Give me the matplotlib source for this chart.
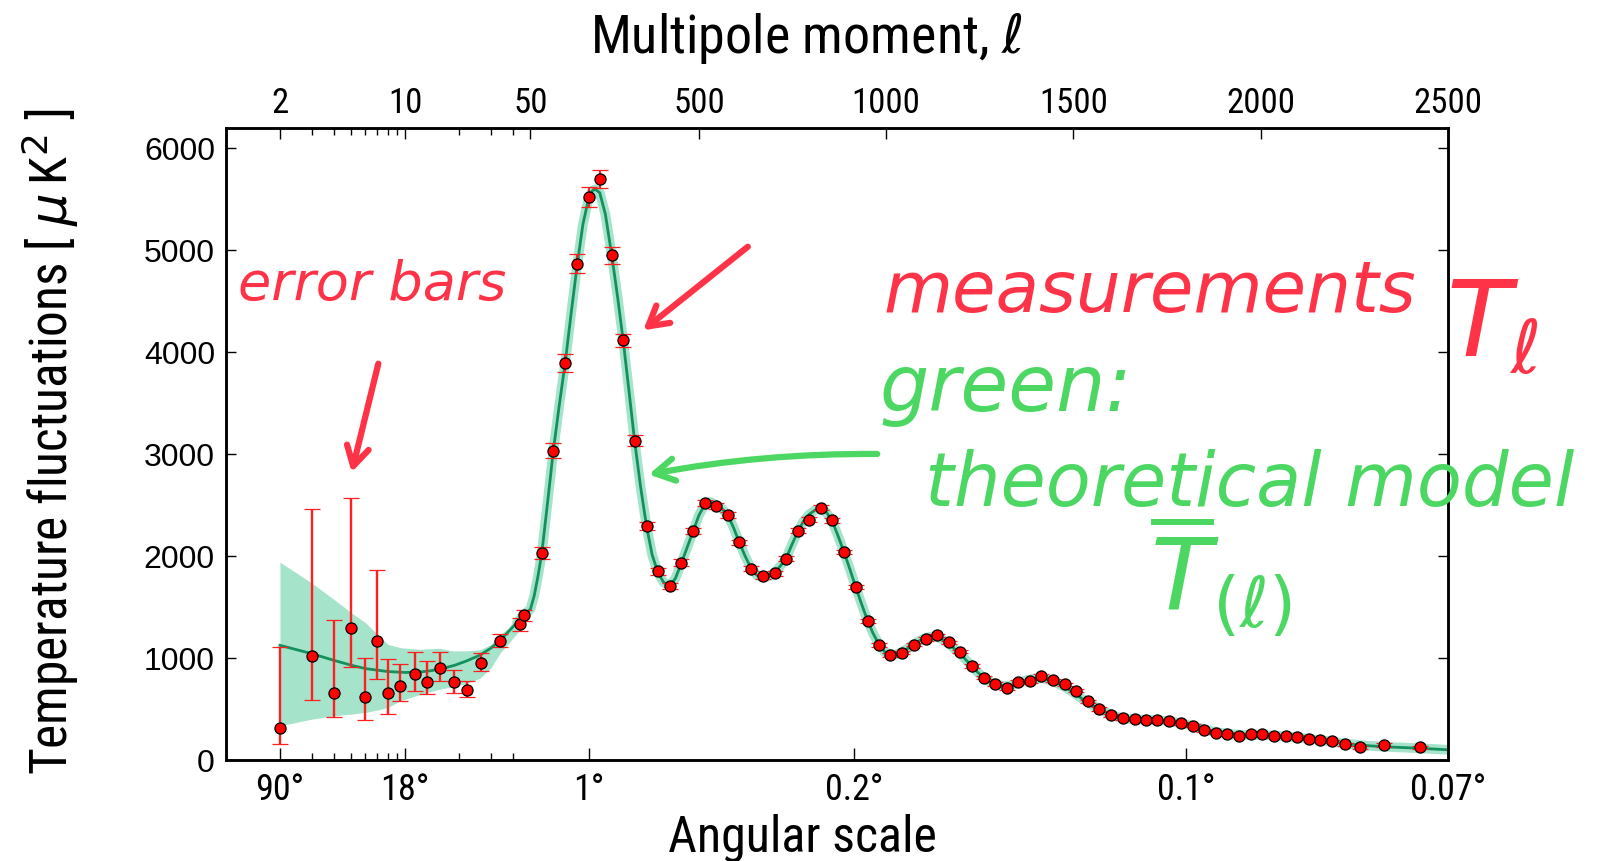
import numpy as np
import matplotlib
matplotlib.use("Agg")
import matplotlib.pyplot as plt
from matplotlib import font_manager as fm

# ---------------- data ----------------
low_l = [2, 3, 4, 5, 6, 7, 8, 9.4, 11.4, 13.3, 15.7, 18.7, 22, 26.4, 33.7, 43.6, 46]
low_D = [313, 1017, 655, 1290, 613, 1170, 652, 723, 841, 765, 902, 762, 687, 955, 1170, 1329, 1417]
low_lo = [156, 586, 420, 912, 391, 792, 447, 577, 677, 645, 779, 655, 613, 873, 1108, 1264, 1362]
low_hi = [1108, 2457, 1368, 2570, 1004, 1867, 994, 941, 1062, 971, 1059, 880, 779, 1049, 1235, 1391, 1469]

high_l = [80, 111, 143, 175, 205, 235, 267, 298, 329, 360, 391, 422, 453, 485, 515, 546, 577, 608,
          639, 670, 702, 733, 764, 794, 825, 856, 888, 918, 950, 981, 1011, 1042, 1074, 1105, 1136,
          1167, 1197, 1229, 1260, 1291, 1322, 1353, 1383, 1414, 1446, 1477, 1508, 1539, 1569, 1601,
          1632, 1663, 1694, 1724, 1756, 1787, 1818, 1849, 1880, 1911, 1942, 1973, 2004, 2035, 2067,
          2097, 2128, 2158, 2190, 2225, 2266, 2328, 2425]
high_D = [2029, 3033, 3895, 4865, 5518, 5696, 4946, 4115, 3130, 2295, 1851, 1705, 1935, 2241, 2519,
          2493, 2405, 2134, 1877, 1802, 1831, 1975, 2248, 2356, 2473, 2349, 2040, 1698, 1366, 1127,
          1029, 1053, 1131, 1183, 1222, 1153, 1063, 922, 808, 746, 707, 765, 772, 824, 782, 743, 681,
          574, 499, 440, 408, 401, 391, 391, 381, 359, 335, 293, 267, 257, 238, 251, 254, 235, 238,
          228, 208, 198, 183, 153, 127, 147, 127]
high_err = [56, 75, 88, 93, 97, 87, 80, 62, 54, 40, 35, 32, 32, 30, 30, 30, 28, 26, 25, 24, 24, 24,
            24, 24, 24, 24, 22, 20, 20, 18, 18, 18, 18, 18, 18, 18, 18, 17, 17, 16, 16, 16, 16, 16,
            16, 16, 16, 16, 16, 15, 15, 15, 15, 15, 15, 15, 15, 15, 15, 15, 15, 15, 15, 15, 15, 15,
            15, 15, 15, 15, 15, 15, 15]

theory_l = [2, 3, 4, 5, 6, 7, 8, 10, 12, 14, 16, 19, 22, 26, 30, 34, 38, 42, 46, 50, 60, 70, 80, 95,
            111, 127, 143, 160, 175, 190, 205, 215, 223, 235, 250, 267, 283, 298, 313, 328, 344, 360,
            375, 391, 406, 422, 437, 453, 469, 485, 500, 515, 530, 546, 562, 577, 592, 608, 623, 639,
            655, 670, 686, 702, 717, 733, 748, 764, 779, 795, 810, 825, 840, 856, 871, 887, 903, 918,
            934, 950, 965, 981, 996, 1011, 1027, 1042, 1058, 1073, 1089, 1104, 1120, 1136, 1151, 1167,
            1182, 1198, 1213, 1229, 1244, 1260, 1275, 1291, 1306, 1322, 1337, 1353, 1368, 1384, 1399,
            1415, 1430, 1446, 1461, 1477, 1492, 1508, 1523, 1539, 1554, 1570, 1585, 1601, 1616, 1632,
            1663, 1694, 1725, 1756, 1787, 1818, 1849, 1880, 1911, 1942, 1973, 2004, 2035, 2066, 2097,
            2128, 2159, 2190, 2225, 2266, 2328, 2425, 2500]
theory_D = [1124, 1043, 977, 929, 896, 880, 867, 858, 862, 876, 895, 930, 971, 1026, 1095, 1175, 1265,
            1345, 1420, 1480, 1610, 1800, 2020, 2500, 3030, 3480, 3900, 4420, 4860, 5250, 5500, 5580,
            5595, 5560, 5350, 4950, 4530, 4100, 3620, 3130, 2680, 2290, 2010, 1830, 1740, 1710, 1780,
            1930, 2090, 2250, 2400, 2500, 2530, 2500, 2460, 2400, 2280, 2130, 2000, 1880, 1810, 1790,
            1800, 1840, 1900, 1980, 2110, 2240, 2340, 2410, 2450, 2460, 2430, 2340, 2200, 2040, 1870,
            1700, 1530, 1370, 1240, 1130, 1060, 1035, 1035, 1060, 1095, 1135, 1170, 1195, 1210, 1205,
            1180, 1140, 1090, 1040, 980, 920, 860, 810, 770, 745, 730, 725, 735, 755, 775, 790, 800,
            800, 790, 770, 745, 715, 680, 640, 600, 565, 530, 500, 470, 445, 425, 410, 400, 395, 390,
            380, 360, 335, 300, 275, 258, 248, 245, 245, 240, 232, 222, 208, 195, 180, 162, 145, 130,
            115, 100]

band_l = [2, 3, 4, 5, 6, 7, 8, 9.4, 12, 15.6, 18.6, 22, 26, 30, 34, 38, 43, 48]
band_lo = [335, 400, 433, 450, 466, 490, 515, 580, 640, 694, 720, 750, 800, 900, 1053, 1150, 1264, 1390]
band_hi = [1939, 1737, 1574, 1444, 1346, 1232, 1134, 1101, 1085, 1095, 1069, 1070, 1080, 1130, 1232, 1300, 1459, 1500]

top_ticks = [2, 10, 50, 500, 1000, 1500, 2000, 2500]
top_labels = ["2", "10", "50", "500", "1000", "1500", "2000", "2500"]
minor_ticks = [3, 4, 5, 6, 7, 8, 9, 20, 30, 40]
ang_ticks = [2, 10, 205, 915, 1800, 2500]
ang_labels = ["90°", "18°", "1°", "0.2°", "0.1°", "0.07°"]
y_ticks = [0, 1000, 2000, 3000, 4000, 5000, 6000]

# ---------------- fonts ----------------
avail = {f.name for f in fm.fontManager.ttflist}
def pick(names, default="DejaVu Sans"):
    for n in names:
        if n in avail:
            return n
    return default
narrow = pick(["Liberation Sans Narrow", "DejaVu Sans Condensed", "Roboto Condensed", "Open Sans Condensed"], "Liberation Sans")
plain = pick(["Liberation Sans", "Arial", "DejaVu Sans"])
hand = "DejaVu Sans"

# ---------------- hybrid scale ----------------
KLOG = 179.2
KLIN = 0.3745

def fwd(l):
    l = np.asarray(l, dtype=float)
    ls = np.clip(l, 1e-3, None)
    return np.where(l < 50, KLOG * np.log10(ls / 50.0), KLIN * (l - 50.0))

def inv(u):
    u = np.asarray(u, dtype=float)
    return np.where(u < 0, 50.0 * 10 ** (np.minimum(u, 0) / KLOG), 50.0 + u / KLIN)

W, H = 1621, 862
fig = plt.figure(figsize=(W / 100, H / 100), dpi=100)
ax = fig.add_axes([226 / W, 1 - 761 / H, (1448 - 226) / W, (761 - 128.5) / H])
ax.set_xscale("function", functions=(fwd, inv))
ax.set_xlim(1.0, 2500)
ax.set_ylim(0, 6200)

green_line = "#13905c"
band_col = "#a5e3cb"
red = "#ff1f1f"

ax.fill_between(band_l, band_lo, band_hi, color=band_col, lw=0, zorder=1)
hi_mask = [l >= 40 for l in theory_l]
ax.plot([l for l, m in zip(theory_l, hi_mask) if m], [d for d, m in zip(theory_D, hi_mask) if m],
        color=band_col, lw=7, solid_capstyle="round", zorder=1.5)
ax.plot(theory_l, theory_D, color=green_line, lw=2.0, zorder=2)

low_err = [np.array(low_D) - np.array(low_lo), np.array(low_hi) - np.array(low_D)]
ax.errorbar(low_l, low_D, yerr=low_err, fmt="o", ms=8, mfc="#ff0000", mec="black", mew=0.9,
            ecolor=red, elinewidth=1.7, capsize=5.5, capthick=1.7, zorder=5)
ax.errorbar(high_l, high_D, yerr=high_err, fmt="o", ms=8, mfc="#ff0000", mec="black", mew=0.9,
            ecolor=red, elinewidth=1.5, capsize=5.5, capthick=1.5, zorder=5)

for s in ax.spines.values():
    s.set_linewidth(1.8)

ax.set_yticks(y_ticks)
ax.set_yticklabels([str(v) for v in y_ticks], fontfamily=plain, fontsize=23)
ax.tick_params(axis="y", which="major", direction="in", length=7, width=1, left=True, right=True, pad=8)

ax.set_xticks(ang_ticks)
ax.set_xticklabels(ang_labels, fontfamily=narrow, fontsize=26)
ax.set_xticks(minor_ticks, minor=True)
ax.tick_params(axis="x", which="major", direction="in", length=9, width=1, pad=8)
ax.tick_params(axis="x", which="minor", direction="in", length=5, width=1)

ax2 = ax.twiny()
ax2.set_xscale("function", functions=(fwd, inv))
ax2.set_xlim(ax.get_xlim())
ax2.set_xticks(top_ticks)
ax2.set_xticklabels(top_labels, fontfamily=narrow, fontsize=25)
ax2.set_xticks(minor_ticks, minor=True)
ax2.tick_params(axis="x", which="major", direction="in", length=8, width=1, pad=6)
ax2.tick_params(axis="x", which="minor", direction="in", length=5, width=1)
for s in ax2.spines.values():
    s.set_linewidth(1.8)

fig.text(806 / W, 1 - 38 / H, r"Multipole moment, $\ell$", ha="center", va="center",
         fontfamily=narrow, fontsize=39)
fig.text(802 / W, 1 - 838 / H, "Angular scale", ha="center", va="center",
         fontfamily=narrow, fontsize=36)
fig.text(50 / W, 1 - 442 / H, r"Temperature fluctuations [ $\mu\,$K$^2$ ]", ha="center", va="center",
         rotation=90, fontfamily=narrow, fontsize=37)

# ---------------- handwritten annotations ----------------
hred = "#ff3347"
hgreen = "#4cd763"
fig.text(238 / W, 1 - 300 / H, "error bars", color=hred, fontfamily=hand, fontstyle="oblique",
         fontsize=39, ha="left", va="baseline")
fig.text(884 / W, 1 - 312 / H, "measurements", color=hred, fontfamily=hand, fontstyle="oblique",
         fontsize=51, ha="left", va="baseline")
fig.text(1446 / W, 1 - 357 / H, r"$T_\ell$", color=hred, fontsize=76, ha="left", va="baseline")
fig.text(879 / W, 1 - 411 / H, "green:", color=hgreen, fontfamily=hand, fontstyle="oblique",
         fontsize=56, ha="left", va="baseline")
fig.text(925 / W, 1 - 506 / H, "theoretical model", color=hgreen, fontfamily=hand, fontstyle="oblique",
         fontsize=53, ha="left", va="baseline")
fig.text(1150 / W, 1 - 612 / H, r"$\overline{T}_{(\ell)}$", color=hgreen, fontsize=72,
         ha="left", va="baseline")

arrow_red = dict(arrowstyle="->,head_length=1.4,head_width=0.8", color=hred, lw=4.5)
ax.annotate("", xy=(641 / W, 1 - 333 / H), xytext=(750 / W, 1 - 246 / H),
            xycoords="figure fraction", textcoords="figure fraction", arrowprops=arrow_red)
ax.annotate("", xy=(351 / W, 1 - 476 / H), xytext=(379 / W, 1 - 362 / H),
            xycoords="figure fraction", textcoords="figure fraction", arrowprops=arrow_red)
arrow_green = dict(arrowstyle="->,head_length=1.4,head_width=0.8", color=hgreen, lw=4.5,
                   connectionstyle="arc3,rad=0.05")
ax.annotate("", xy=(646 / W, 1 - 476 / H), xytext=(880 / W, 1 - 455 / H),
            xycoords="figure fraction", textcoords="figure fraction", arrowprops=arrow_green)

fig.savefig("out.png", dpi=100)
